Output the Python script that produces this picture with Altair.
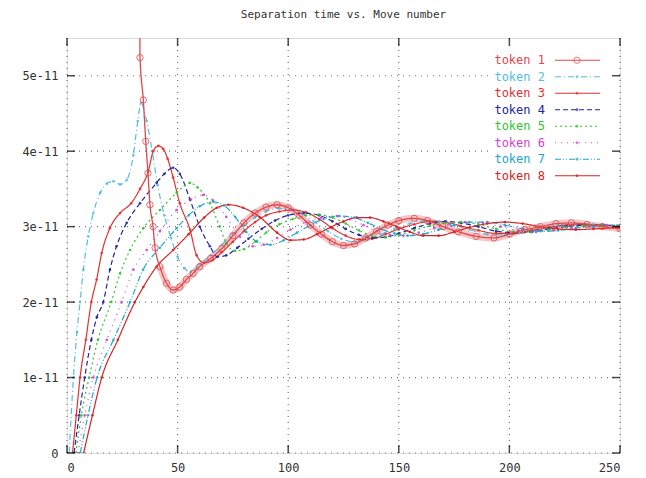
import altair as alt
import pandas as pd

tokens = ["token 1", "token 2", "token 3", "token 4", "token 5", "token 6", "token 7", "token 8"]
colors = ["#e2474b", "#55bde0", "#e23030", "#25259e", "#33c433", "#d43fd4", "#21a6cc", "#d42424"]
dashes = [[1, 0], [6, 3, 1, 3], [1, 0], [5, 3], [2, 3], [1, 5], [6, 2, 1, 2, 1, 2], [1, 0]]

x_ticks = [0, 50, 100, 150, 200, 250]
y_ticks = [0, 1, 2, 3, 4, 5]

# separation time in units of 1e-11
t1_x = [32.5, 33, 34.5, 35.6, 36.6, 37.5, 38.9, 39.8, 42, 45, 48, 51, 54, 57, 60, 65, 70, 75, 80, 85, 90, 95,
        100, 105, 110, 115, 120, 125, 130, 135, 140, 145, 150, 157, 163, 170, 177, 185, 193, 200, 207, 214,
        221, 228, 235, 242, 250]
t1_y = [8.0, 5.24, 4.68, 4.13, 3.71, 3.29, 3.0, 2.72, 2.47, 2.25, 2.16, 2.2, 2.3, 2.38, 2.47, 2.58, 2.71, 2.88,
        3.05, 3.18, 3.26, 3.29, 3.25, 3.15, 3.02, 2.9, 2.8, 2.75, 2.77, 2.85, 2.94, 3.02, 3.08, 3.11, 3.08, 3.0,
        2.93, 2.87, 2.85, 2.9, 2.96, 3.0, 3.04, 3.05, 3.03, 3.0, 2.97]

t2_x = [1, 2.9, 4.5, 5.9, 7.4, 9.6, 11.9, 15, 18, 21, 24, 27, 30, 32, 33.5, 36, 38.5, 41, 44, 47, 50, 53, 56,
        60, 65, 70, 75, 80, 85, 90, 96, 101, 106, 112, 118, 124, 130, 136, 142, 148, 155, 162, 168, 175, 182,
        190, 198, 206, 214, 222, 230, 238, 250]
t2_y = [0, 1.0, 1.6, 2.0, 2.43, 2.87, 3.18, 3.45, 3.57, 3.6, 3.56, 3.62, 3.95, 4.4, 4.64, 4.4, 4.0, 3.55, 3.15,
        2.85, 2.6, 2.45, 2.4, 2.5, 2.62, 2.76, 2.9, 3.02, 3.12, 3.2, 3.24, 3.24, 3.18, 3.06, 2.94, 2.84, 2.8,
        2.83, 2.9, 2.97, 3.04, 3.08, 3.07, 3.02, 2.96, 2.9, 2.89, 2.93, 2.98, 3.02, 3.04, 3.03, 3.0]

t3_x = [2.5, 4.2, 5.9, 8.5, 11, 13.4, 15.7, 19.4, 24, 29, 33, 36.7, 39, 41.3, 43.5, 45.5, 48, 51, 55.6, 58.6,
        62, 66, 70, 75, 80, 85, 90, 96, 102, 108, 114, 120, 126, 132, 138, 144, 150, 157, 164, 171, 178, 186,
        194, 202, 210, 218, 226, 234, 242, 250]
t3_y = [0, 0.5, 1.0, 1.5, 2.0, 2.3, 2.65, 2.98, 3.18, 3.31, 3.5, 3.73, 4.0, 4.07, 4.03, 3.9, 3.65, 3.31, 2.96,
        2.62, 2.52, 2.56, 2.66, 2.8, 2.94, 3.06, 3.15, 3.2, 3.22, 3.19, 3.1, 2.98, 2.88, 2.83, 2.84, 2.9, 2.97,
        3.03, 3.07, 3.06, 3.01, 2.95, 2.91, 2.91, 2.95, 2.99, 3.02, 3.03, 3.02, 3.0]

t4_x = [3.2, 5.5, 8, 11, 13.5, 16.4, 19.4, 22.4, 27, 33, 40.5, 44, 48, 51, 55.6, 60, 64.6, 68, 72, 77, 82, 88,
        94, 100, 107, 114, 120, 126, 132, 138, 144, 150, 157, 164, 171, 178, 186, 194, 202, 210, 218, 226,
        234, 242, 250]
t4_y = [0, 0.5, 1.0, 1.5, 1.8, 2.0, 2.43, 2.74, 3.05, 3.31, 3.58, 3.7, 3.78, 3.7, 3.36, 3.0, 2.74, 2.6, 2.62,
        2.72, 2.84, 2.97, 3.08, 3.15, 3.18, 3.15, 3.07, 2.97, 2.89, 2.85, 2.86, 2.91, 2.98, 3.04, 3.07, 3.05,
        3.0, 2.94, 2.92, 2.93, 2.97, 3.0, 3.02, 3.02, 3.01]

t5_x = [4, 6.5, 10, 14, 20, 24, 28.5, 34.5, 42, 49.6, 55.6, 59, 64.6, 69, 72, 76, 80, 85, 90, 96, 102, 108,
        114, 120, 126, 132, 138, 144, 150, 157, 164, 171, 178, 186, 194, 202, 210, 218, 226, 234, 242, 250]
t5_y = [0, 0.5, 1.0, 1.5, 2.0, 2.38, 2.69, 2.98, 3.22, 3.45, 3.58, 3.52, 3.31, 3.0, 2.78, 2.68, 2.7, 2.8, 2.92,
        3.03, 3.1, 3.15, 3.16, 3.12, 3.04, 2.95, 2.88, 2.86, 2.89, 2.95, 3.01, 3.05, 3.06, 3.03, 2.97, 2.93,
        2.93, 2.96, 2.99, 3.01, 3.02, 3.02]

t6_x = [5, 8, 11.9, 18, 24.7, 30, 36, 42, 49.6, 56, 61.6, 66, 72, 78, 84, 89, 95, 101, 108, 115, 122, 128,
        134, 140, 146, 152, 159, 166, 173, 180, 188, 196, 204, 212, 220, 228, 236, 244, 250]
t6_y = [0, 0.5, 1.0, 1.5, 2.0, 2.43, 2.69, 2.94, 3.22, 3.36, 3.42, 3.35, 3.13, 2.87, 2.74, 2.76, 2.85, 2.96,
        3.06, 3.12, 3.14, 3.1, 3.02, 2.94, 2.89, 2.88, 2.92, 2.98, 3.03, 3.06, 3.05, 3.0, 2.95, 2.93, 2.95,
        2.98, 3.01, 3.02, 3.02]

t7_x = [6, 9.5, 13.6, 21, 28.5, 34.4, 42, 49.6, 55, 60, 66, 71, 76, 81, 86, 92, 98, 104, 110, 116, 123, 130,
        136, 142, 148, 154, 161, 168, 175, 182, 190, 198, 206, 214, 222, 230, 238, 250]
t7_y = [0, 0.5, 1.0, 1.5, 2.0, 2.43, 2.72, 2.98, 3.15, 3.27, 3.33, 3.28, 3.13, 2.93, 2.8, 2.76, 2.82, 2.92,
        3.02, 3.1, 3.14, 3.12, 3.05, 2.97, 2.91, 2.88, 2.9, 2.96, 3.02, 3.06, 3.06, 3.02, 2.97, 2.94, 2.95,
        2.98, 3.0, 3.02]

t8_x = [7.5, 11.5, 15.7, 23, 30.7, 34.5, 40.5, 48, 55, 62, 67.7, 73, 79.6, 87, 95, 101, 107, 113, 119, 125,
        131, 137, 143, 149, 155, 161, 168, 175, 182, 190, 198, 206, 214, 222, 230, 238, 250]
t8_y = [0, 0.5, 1.0, 1.5, 2.0, 2.2, 2.47, 2.69, 2.9, 3.12, 3.25, 3.29, 3.25, 3.13, 2.92, 2.82, 2.83, 2.9, 2.99,
        3.07, 3.12, 3.12, 3.07, 3.0, 2.93, 2.88, 2.88, 2.93, 2.99, 3.04, 3.06, 3.04, 3.0, 2.97, 2.96, 2.97, 2.99]

series_x = [t1_x, t2_x, t3_x, t4_x, t5_x, t6_x, t7_x, t8_x]
series_y = [t1_y, t2_y, t3_y, t4_y, t5_y, t6_y, t7_y, t8_y]

rows = []
for tok, xs, ys in zip(tokens, series_x, series_y):
    for xv, yv in zip(xs, ys):
        rows.append({"token": tok, "move": xv, "sep": yv})
df = pd.DataFrame(rows)

FONT = "DejaVu Sans Mono"

xscale = alt.Scale(domain=[0, 250], nice=False, zero=False)
yscale = alt.Scale(domain=[0, 5.5], nice=False)
color = alt.Color("token:N", scale=alt.Scale(domain=tokens, range=colors), legend=None)
dash = alt.StrokeDash("token:N", scale=alt.Scale(domain=tokens, range=dashes), legend=None)

xaxis = alt.Axis(values=x_ticks, grid=False, tickSize=0, labelFont=FONT, labelFontSize=12,
                 labelColor="#333", labelPadding=9, domain=False, title=None)
yaxis = alt.Axis(values=y_ticks, grid=False, tickSize=0, labelFont=FONT, labelFontSize=12,
                 labelColor="#333", labelPadding=9, domain=False, title=None,
                 labelExpr="datum.value == 0 ? '0' : datum.value + 'e-11'")

# dotted grid drawn as rules so the key box can cover it
ytk = pd.DataFrame({"v": y_ticks, "left": [0] * len(y_ticks), "right": [250] * len(y_ticks)})
xtk = pd.DataFrame({"v": x_ticks, "bottom": [0] * len(x_ticks), "top": [5.5] * len(x_ticks)})
grid_h = alt.Chart(ytk).mark_rule(strokeDash=[1, 5], color="#777", strokeWidth=1.2).encode(
    y=alt.Y("v:Q", scale=yscale, axis=yaxis))
grid_v = alt.Chart(xtk).mark_rule(strokeDash=[1, 5], color="#777", strokeWidth=1.2).encode(
    x=alt.X("v:Q", scale=xscale, axis=xaxis))

base = alt.Chart(df).encode(
    x=alt.X("move:Q", scale=xscale, axis=xaxis),
    y=alt.Y("sep:Q", scale=yscale, axis=yaxis),
    color=color,
)

others = base.transform_filter(alt.datum.token != "token 1")
first = base.transform_filter(alt.datum.token == "token 1")

band = first.transform_filter(alt.datum.move >= 40).mark_line(
    interpolate="monotone", strokeWidth=7, opacity=0.3, clip=True)
lines = others.mark_line(interpolate="monotone", strokeWidth=1.2, clip=True).encode(strokeDash=dash)
dots = others.mark_point(filled=True, size=7, opacity=0.9, clip=True)
line1 = first.mark_line(interpolate="monotone", strokeWidth=1.3, clip=True)
circles = first.mark_point(filled=False, size=40, strokeWidth=1, opacity=0.8, clip=True)

# inward tick marks on the frame
tick_l = alt.Chart(ytk).mark_tick(orient="horizontal", size=8, thickness=1.5, color="black", xOffset=4).encode(
    x=alt.X("left:Q", scale=xscale), y=alt.Y("v:Q", scale=yscale))
tick_r = alt.Chart(ytk).mark_tick(orient="horizontal", size=8, thickness=1.5, color="black", xOffset=-4).encode(
    x=alt.X("right:Q", scale=xscale), y=alt.Y("v:Q", scale=yscale))
tick_b = alt.Chart(xtk).mark_tick(orient="vertical", size=8, thickness=1.5, color="black", yOffset=-4).encode(
    x=alt.X("v:Q", scale=xscale), y=alt.Y("bottom:Q", scale=yscale))
tick_t = alt.Chart(xtk).mark_tick(orient="vertical", size=8, thickness=1.5, color="black", yOffset=4).encode(
    x=alt.X("v:Q", scale=xscale), y=alt.Y("top:Q", scale=yscale))

# white box behind the key
box_df = pd.DataFrame({"x0": [192.5], "x1": [248.0], "y0": [3.5], "y1": [5.45]})
leg_bg = alt.Chart(box_df).mark_rect(fill="#ffffff", opacity=1, strokeWidth=0).encode(
    x=alt.X("x0:Q", scale=xscale), x2="x1:Q", y=alt.Y("y0:Q", scale=yscale), y2="y1:Q")

data_layer = alt.layer(grid_h, grid_v, band, lines, dots, line1, circles, leg_bg,
                       tick_l, tick_r, tick_b, tick_t)

leg_df = pd.DataFrame({"token": tokens})
leg_y = alt.Y("token:N", scale=alt.Scale(type="point", domain=tokens, range=[14, 146]), axis=None)
leg_text = alt.Chart(leg_df).mark_text(align="right", baseline="middle", font=FONT, fontSize=12).encode(
    x=alt.value(478), y=leg_y, text="token:N", color=color)
leg_rule = alt.Chart(leg_df).mark_rule(strokeWidth=1.2).encode(
    x=alt.value(488), x2=alt.value(533), y=leg_y, color=color, strokeDash=dash)
leg_dot = alt.Chart(leg_df).transform_filter(alt.datum.token != "token 1").mark_point(
    filled=True, size=8).encode(x=alt.value(510), y=leg_y, color=color)
leg_circle = alt.Chart(leg_df).transform_filter(alt.datum.token == "token 1").mark_point(
    filled=False, size=40, strokeWidth=1).encode(x=alt.value(510), y=leg_y, color=color)
legend_layer = alt.layer(leg_text, leg_rule, leg_dot, leg_circle)

chart = alt.layer(data_layer, legend_layer).resolve_scale(y="independent").properties(
    width=553,
    height=415,
    autosize=alt.AutoSizeParams(type="none"),
    padding={"left": 67, "top": 38, "right": 26, "bottom": 25},
    title=alt.Title("Separation time vs. Move number", font=FONT, fontSize=11, fontWeight="normal",
                    color="#333", anchor="middle", offset=17),
).configure_view(stroke="black", strokeWidth=1.5).configure(background="white")

chart.save("out.html", embed_options={"renderer": "svg", "actions": False})
